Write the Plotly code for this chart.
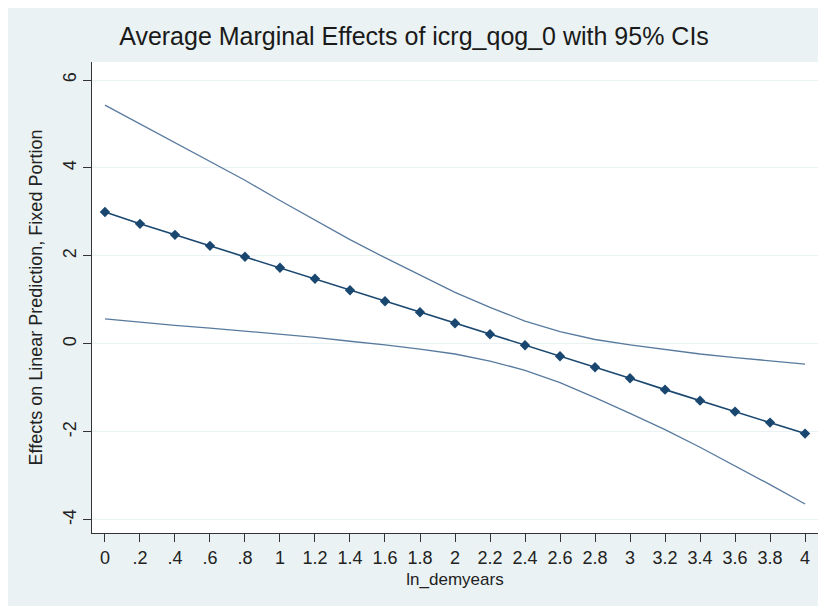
import plotly.graph_objects as go

x_vals = [0, 0.2, 0.4, 0.6, 0.8, 1.0, 1.2, 1.4, 1.6, 1.8, 2.0, 2.2, 2.4, 2.6, 2.8, 3.0, 3.2, 3.4, 3.6, 3.8, 4.0]
effect = [3.00, 2.73, 2.48, 2.23, 1.98, 1.73, 1.48, 1.22, 0.97, 0.72, 0.47, 0.22, -0.03, -0.28, -0.53, -0.78, -1.04, -1.29, -1.54, -1.79, -2.04]
upper_ci = [5.43, 5.00, 4.57, 4.15, 3.72, 3.26, 2.81, 2.37, 1.96, 1.56, 1.17, 0.83, 0.52, 0.28, 0.10, -0.02, -0.13, -0.23, -0.31, -0.38, -0.46]
lower_ci = [0.57, 0.49, 0.42, 0.36, 0.29, 0.22, 0.15, 0.06, -0.02, -0.12, -0.23, -0.39, -0.60, -0.88, -1.22, -1.58, -1.95, -2.35, -2.77, -3.20, -3.64]

x_ticks = [0, 0.2, 0.4, 0.6, 0.8, 1, 1.2, 1.4, 1.6, 1.8, 2, 2.2, 2.4, 2.6, 2.8, 3, 3.2, 3.4, 3.6, 3.8, 4]
x_tick_labels = ["0", ".2", ".4", ".6", ".8", "1", "1.2", "1.4", "1.6", "1.8", "2", "2.2", "2.4", "2.6", "2.8", "3", "3.2", "3.4", "3.6", "3.8", "4"]
y_ticks = [-4, -2, 0, 2, 4, 6]
y_tick_labels = ["-4", "-2", "0", "2", "4", "6"]

ci_color = "#587a9e"
main_color = "#1a476f"

fig = go.Figure()
fig.add_trace(go.Scatter(x=x_vals, y=upper_ci, mode="lines",
                         line=dict(color=ci_color, width=1.3), hoverinfo="skip"))
fig.add_trace(go.Scatter(x=x_vals, y=lower_ci, mode="lines",
                         line=dict(color=ci_color, width=1.3), hoverinfo="skip"))
fig.add_trace(go.Scatter(x=x_vals, y=effect, mode="lines+markers",
                         line=dict(color=main_color, width=1.6),
                         marker=dict(symbol="diamond", size=8, color=main_color)))

font = "Liberation Sans, Arial, sans-serif"
fig.update_layout(
    width=812, height=598,
    margin=dict(l=84, r=2, t=54, b=73),
    paper_bgcolor="#eaf2f3",
    plot_bgcolor="#ffffff",
    showlegend=False,
    font=dict(family=font, color="#222222", size=18),
    title=dict(text="Average Marginal Effects of icrg_qog_0 with 95% CIs",
               x=0.5, xanchor="center", y=0.952, yanchor="middle",
               font=dict(size=25, color="#1a1a1a", family=font)),
)
fig.update_xaxes(
    range=[-0.074, 4.074], tickmode="array", tickvals=x_ticks, ticktext=x_tick_labels,
    showgrid=False, zeroline=False, showline=True, linecolor="#333333", linewidth=1.3,
    ticks="outside", ticklen=8, tickcolor="#333333", tickfont=dict(size=18),
    title=dict(text="ln_demyears", font=dict(size=17), standoff=6),
)
fig.update_yaxes(
    range=[-4.30, 6.41], tickmode="array", tickvals=y_ticks, ticktext=y_tick_labels,
    showgrid=True, gridcolor="#eaf2f3", gridwidth=1.2, zeroline=False,
    showline=True, linecolor="#333333", linewidth=1.3,
    ticks="outside", ticklen=8, tickcolor="#333333", tickangle=-90, tickfont=dict(size=18),
    title=dict(text="Effects on Linear Prediction, Fixed Portion", font=dict(size=18), standoff=12),
)

fig.write_html("out.html")
